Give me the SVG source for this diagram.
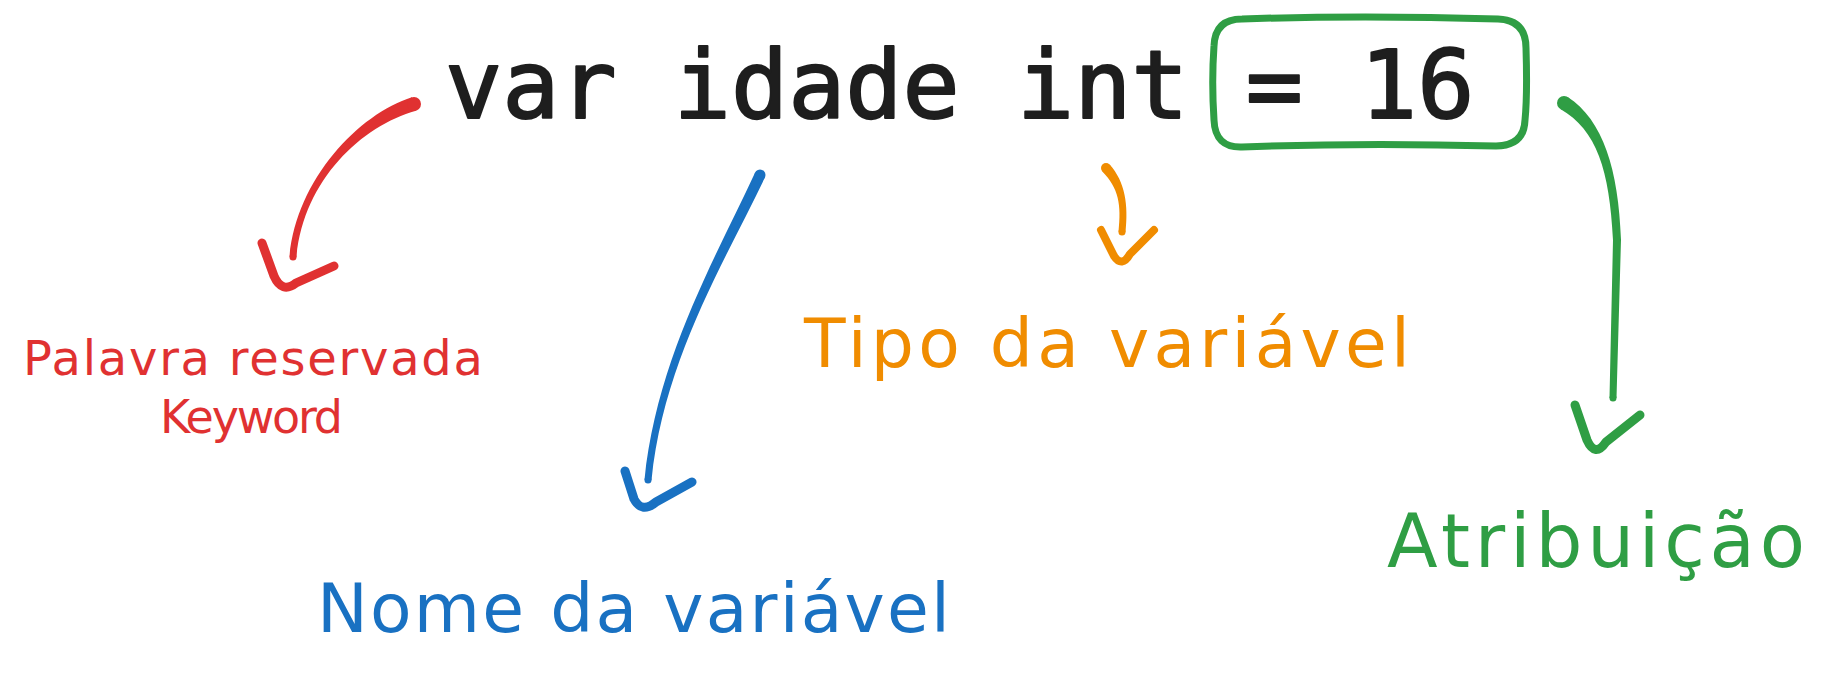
<svg xmlns="http://www.w3.org/2000/svg" width="1825" height="683" viewBox="0 0 1825 683">
<style>
.code{font-family:"DejaVu Sans Mono","Liberation Mono",monospace;font-size:95px;fill:#1e1e1e;stroke:#1e1e1e;stroke-width:2;stroke-linejoin:round}
.hand{font-family:"DejaVu Sans","Liberation Sans",sans-serif}
.ln{fill:none;stroke-linecap:round;stroke-linejoin:round}
.red{stroke:#e03131}.blue{stroke:#1971c2}.orange{stroke:#f08c00}.green{stroke:#2f9e44}
.fred{fill:#e03131}.fblue{fill:#1971c2}.forange{fill:#f08c00}.fgreen{fill:#2f9e44}
</style>
<rect width="1825" height="683" fill="#ffffff"/>
<g id="code">
<text class="code" x="445" y="118" xml:space="preserve">var idade int = 16</text>
</g>
<g id="box-value">
<path class="ln green" stroke-width="7" d="M1242,19 C1330,16 1430,17 1498,19 Q1526,20 1526,48 C1527,80 1526,110 1525,120 Q1524,146 1496,146 C1420,144 1320,144 1242,147 Q1215,148 1214,120 C1212,90 1213,60 1214,46 Q1215,19 1242,19 Z"/>
</g>
<g id="label-keyword">
<text class="hand" x="23" y="375" font-size="48" fill="#e03131" textLength="460">Palavra reservada</text>
<text class="hand" x="160" y="433" font-size="46" fill="#e03131" textLength="183">Keyword</text>
</g>
<g id="label-nome">
<text class="hand" x="317" y="632" font-size="68" fill="#1971c2" textLength="633">Nome da variável</text>
</g>
<g id="label-tipo">
<text class="hand" x="804" y="367" font-size="68" fill="#f08c00" textLength="606">Tipo da variável</text>
</g>
<g id="label-atribuicao">
<text class="hand" x="1387" y="567" font-size="74" fill="#2f9e44" textLength="418">Atribuição</text>
</g>
<g id="connectors">
<g id="arrow-keyword">
<path class="fred" d="M412,97.3 C358.3,114.25 296.5,179.7 289.5,256.8 L296.5,257.2 C303.5,180.3 361.7,125.75 416,110.7 Z"/>
<circle class="fred" cx="414" cy="104" r="7"/>
<circle class="fred" cx="293" cy="257" r="3.5"/>
<path class="ln red" stroke-width="9" d="M262,243 L274,276 Q282,294 296,283 L334,266"/>
</g>
<g id="arrow-nome">
<path class="fblue" d="M755,172.7 C715.5,257.9 656.5,359.65 644.5,479.75 L651.5,480.25 C663.5,360.35 724.5,262.1 765,177.3 Z"/>
<circle class="fblue" cx="760" cy="175" r="5.5"/>
<circle class="fblue" cx="648" cy="480" r="3.5"/>
<path class="ln blue" stroke-width="9" d="M625,471 L634,499 Q642,514 656,502 L692,482"/>
</g>
<g id="arrow-tipo">
<path class="forange" d="M1102.35,171.43 C1118.7,188.1 1121.5,204.6 1118.5,231.7 L1125.5,232.3 C1128.5,205.4 1125.3,181.9 1109.65,164.57 Z"/>
<circle class="forange" cx="1106" cy="168" r="5"/>
<circle class="forange" cx="1122" cy="232" r="3.5"/>
<path class="ln orange" stroke-width="8" d="M1101,230 L1114,256 Q1122,268 1130,254 L1154,230"/>
</g>
<g id="arrow-atribuicao">
<path class="fgreen" d="M1560.35,108.97 C1596.9,130.1 1609.5,170.2 1613,240.2 L1609.5,398 L1616.5,398 L1621,239.8 C1618.5,169.8 1603.1,119.9 1567.65,97.03 Z"/>
<circle class="fgreen" cx="1564" cy="103" r="7"/>
<circle class="fgreen" cx="1613" cy="398" r="3.5"/>
<path class="ln green" stroke-width="9" d="M1575,405 L1587,440 Q1595,458 1606,442 L1640,415"/>
</g>
</g>
</svg>
